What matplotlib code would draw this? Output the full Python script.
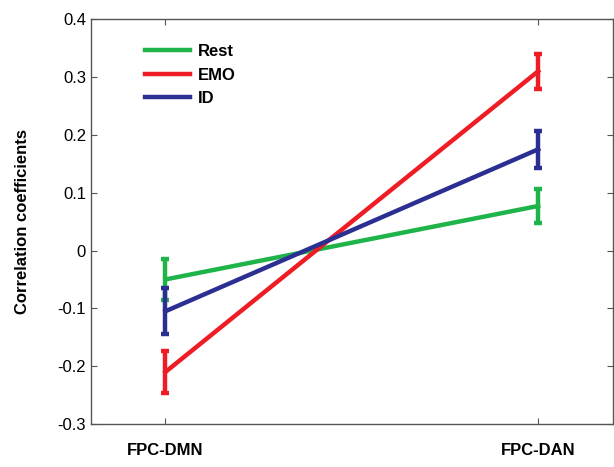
import matplotlib.pyplot as plt
from matplotlib.lines import Line2D
import numpy as np

plt.rcParams['font.family'] = ['Liberation Sans', 'DejaVu Sans']

conditions = ['FPC-DMN', 'FPC-DAN']
series = ['Rest', 'EMO', 'ID']
colors = ['#1fb44a', '#ee1c24', '#2b2f92']
means = {
    'Rest': [-0.050, 0.077],
    'EMO': [-0.210, 0.310],
    'ID': [-0.105, 0.175],
}
errs = {
    'Rest': [0.036, 0.030],
    'EMO': [0.036, 0.030],
    'ID': [0.040, 0.032],
}

fig = plt.figure(figsize=(6.14, 4.67), dpi=100)
ax = fig.add_axes([0.148, 0.092, 0.85, 0.867])

x = np.arange(1, len(conditions) + 1)
handles = []
for name, c in zip(series, colors):
    ax.errorbar(x, means[name], yerr=errs[name], color=c, lw=3.2,
                elinewidth=3.2, capsize=3, capthick=3.2)
    handles.append(Line2D([], [], color=c, lw=3.2, label=name))

ax.set_xlim(0.8, 2.2)
ax.set_ylim(-0.3, 0.4)
ax.set_xticks(x)
ax.set_xticklabels(conditions, fontweight='bold', fontsize=12)
ax.set_yticks(np.arange(-0.3, 0.41, 0.1))
ax.set_yticklabels(['-0.3', '-0.2', '-0.1', '0', '0.1', '0.2', '0.3', '0.4'])
ax.tick_params(axis='y', labelsize=12, direction='in', right=True, length=4, color='#555555')
ax.tick_params(axis='x', direction='in', top=True, length=4, pad=14, color='#555555')
for s in ax.spines.values():
    s.set_color('#555555')
    s.set_linewidth(1.0)
ax.set_ylabel('Correlation coefficients', fontweight='bold', fontsize=12, labelpad=20)

leg = ax.legend(handles=handles, loc='upper left', bbox_to_anchor=(0.075, 0.975),
                frameon=False, handlelength=2.7, fontsize=12, labelspacing=0.5,
                handletextpad=0.5)
for t in leg.get_texts():
    t.set_fontweight('bold')

fig.savefig('out.png', dpi=100)
